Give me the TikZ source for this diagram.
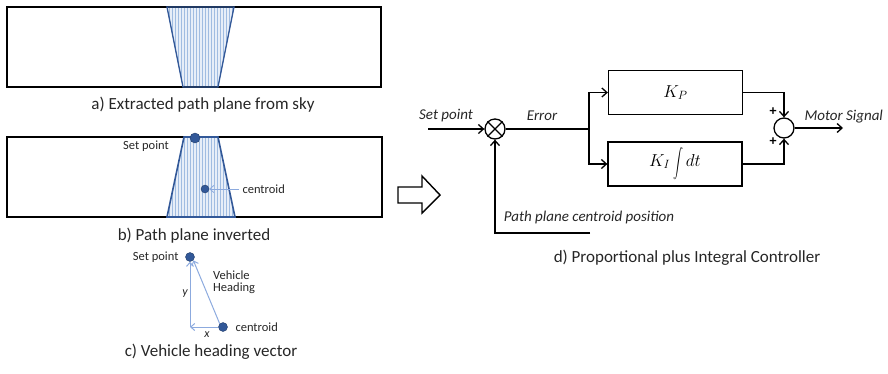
\documentclass[tikz,border=0pt]{standalone}
\usepackage{fontspec}
\setmainfont{Carlito}
\usetikzlibrary{arrows.meta}
\definecolor{pathblue}{RGB}{50,88,152}
\definecolor{hatchblue}{RGB}{160,188,225}
\definecolor{vecblue}{RGB}{140,170,222}
\tikzset{
  caption/.style={font=\fontsize{17}{19}\selectfont,text=black!85},
  lbl/.style={font=\fontsize{12.5}{14}\selectfont,text=black!85},
  sig/.style={font=\itshape\fontsize{15}{17}\selectfont,text=black!85},
  blk/.style={draw,line width=1.3pt,minimum width=134pt,minimum height=44pt,font=\fontsize{18}{20}\selectfont},
  sum/.style={draw,circle,line width=1.3pt,minimum size=20pt,inner sep=0pt},
  dot/.style={circle,fill=pathblue,draw=pathblue!70!black,inner sep=0pt,minimum size=8pt},
  wire/.style={line width=1.3pt,-{Straight Barb[length=5pt,width=9pt]}},
  vec/.style={vecblue,line width=1pt,-{Straight Barb[length=4pt,width=7pt]}}
}
\begin{document}
\begin{tikzpicture}[x=1pt,y=-1pt,line join=miter]
\useasboundingbox (0,0) rectangle (888,373);
% a) path plane seen from the sky
\begin{scope}
\clip (167,7)--(234,7)--(218,87)--(183,87)--cycle;
\fill[hatchblue!25] (160,0) rectangle (240,90);
\foreach \x in {160,163,...,240} \draw[hatchblue,line width=0.6pt] (\x,0)--(\x,90);
\end{scope}
\draw[line width=1.6pt] (7,7) rectangle (381,87);
\draw[pathblue,line width=1.3pt] (167,7)--(234,7)--(218,87)--(183,87)--cycle;
\node[caption] (capA) at (203,105) {a) Extracted path plane from sky};
% b) the same plane turned over
\begin{scope}
\clip (184,137)--(218,137)--(235,217)--(167,217)--cycle;
\fill[hatchblue!25] (160,130) rectangle (240,220);
\foreach \x in {160,163,...,240} \draw[hatchblue,line width=0.6pt] (\x,130)--(\x,220);
\end{scope}
\draw[line width=1.6pt] (7,137) rectangle (382,217);
\draw[pathblue,line width=1.6pt] (184,137)--(218,137)--(235,217)--(167,217)--cycle;
\node[dot,minimum width=10pt,minimum height=7pt] (spB) at (195,138) {};
\node[lbl] (spBlbl) at (146,146) {Set point};
\node[dot] (cenB) at (205,189) {};
\node[lbl,anchor=west] (cenBlbl) at (239,189) {centroid};
\draw[vec,line width=0.8pt] (cenBlbl.west) -- (cenB.east);
\node[caption] (capB) at (194,236) {b) Path plane inverted};
% c) heading vector
\node[dot,minimum size=9pt] (spC) at (190,257) {};
\node[dot,minimum size=9pt] (cenC) at (223,327) {};
\coordinate (crn) at (190,327);
\draw[vec] (cenC.west) -- (crn);
\draw[vec] (crn) -- (spC.south);
\draw[vec] (cenC.north west) -- (spC.south east);
\node[lbl,anchor=east] (spClbl) at (182,257) {Set point};
\node[lbl,anchor=west] (cenClbl) at (232,327) {centroid};
\node[lbl,anchor=west,align=left,inner sep=0pt] (head) at (213,282) {Vehicle\\[-2pt]Heading};
\node[lbl,font=\itshape\fontsize{12}{14}\selectfont] (ylbl) at (185,294) {y};
\node[lbl,font=\itshape\fontsize{12}{14}\selectfont] (xlbl) at (207,335) {x};
\node[caption] (capC) at (211,352) {c) Vehicle heading vector};
% hollow arrow between the halves
\draw[line width=1.4pt] (398,187)--(422,187)--(422,176)--(440,195)--(422,213)--(422,203)--(398,203)--cycle;
% d) PI controller
\node[sum] (s1) at (495,129) {};
\draw[line width=1.3pt] (s1.45)--(s1.225) (s1.135)--(s1.-45);
\node[blk] (kp) at (675.5,92.5) {$K_P$};
\node[blk] (ki) at (675,164) {$K_I\,\raisebox{-0.45ex}{\scalebox{1}[1.45]{$\displaystyle\int$}}\, dt$};
\node[sum] (s2) at (784,128) {};
\coordinate (in) at (428,129);
\coordinate (br) at (589,129);
\coordinate (fb) at (590,233);
\coordinate (out) at (843,128);
\draw[wire] (in) -- (s1.west);
\draw[line width=1.3pt] (s1.east) -- (br);
\draw[wire] (br) |- (kp.west);
\draw[wire] (br) |- (ki.west);
\draw[wire] (kp.east) -| (s2.north);
\draw[wire] (ki.east) -| (s2.south);
\draw[wire] (s2.east) -- (out);
\draw[wire] (fb) -| (s1.south);
\node[sig] (splbl) at (446,116) {Set point};
\node[sig] (errlbl) at (542,116) {Error};
\node[sig,anchor=west] (outlbl) at (801,117) {Motor Signal};
\node[sig] (fblbl) at (589,217) {Path plane centroid position};
\node[font=\bfseries\fontsize{14}{14}\selectfont] (plusA) at (773,112) {+};
\node[font=\bfseries\fontsize{14}{14}\selectfont] (plusB) at (773,142) {+};
\node[caption] (capD) at (687,258) {d) Proportional plus Integral Controller};
\end{tikzpicture}
\end{document}
